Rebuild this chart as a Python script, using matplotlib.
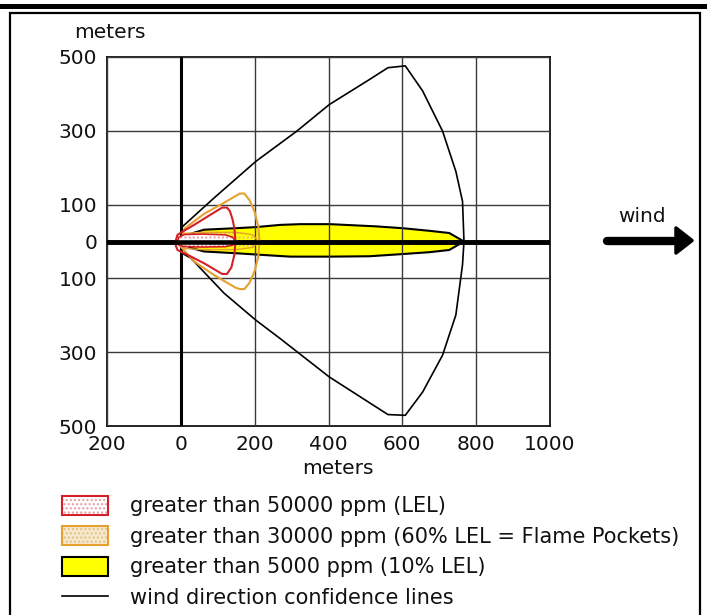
import matplotlib
matplotlib.use('Agg')
import matplotlib.pyplot as plt
from matplotlib.patches import Polygon, Patch, Rectangle
from matplotlib.lines import Line2D
from matplotlib.legend_handler import HandlerTuple

plt.rcParams['font.family'] = ['DejaVu Sans']
plt.rcParams['hatch.linewidth'] = 1.0

# ---------------- data (meters) ----------------
conf_x = [0, 4, 90, 203, 314, 402, 511, 561, 608, 655, 709, 745, 763, 767,
          763, 745, 709, 655, 608, 561, 402, 269, 203, 117, 27, 4, 0]
conf_y = [0, 40, 118, 217, 299, 371, 439, 471, 476, 408, 299, 190, 109, 0,
          -63, -199, -308, -408, -471, -469, -367, -263, -213, -140, -45, -32, 0]

yellow_x = [0, 30, 63, 148, 203, 269, 323, 404, 529, 601, 673, 727, 767,
            727, 673, 601, 511, 404, 296, 215, 153, 63, 30, 0]
yellow_y = [3, 22, 32, 36, 39, 45, 47, 47, 41, 36, 29, 23, 0,
            -23, -29, -34, -40, -41, -41, -36, -32, -27, -18, -3]

red_x = [-16, -9, 5, 36, 81, 112, 125, 133, 140, 145, 148, 145, 137, 125, 112, 63, 18, -9]
red_y = [-5, 18, 27, 45, 73, 92, 92, 82, 60, 36, 0, -36, -70, -88, -88, -59, -36, -23]

orange_x = [0, 10, 63, 117, 160, 172, 186, 200, 210, 213, 210, 200, 186, 172, 160, 148, 90, 36, 0]
orange_y = [0, 35, 75, 105, 130, 130, 112, 80, 40, 0, -40, -80, -112, -129, -129, -125, -91, -54, -14]

red_fp_x = [-9, -5, 10, 60, 120, 140, 148, 140, 120, 60, 10, -5, -9]
red_fp_y = [0, 12, 19, 20, 18, 12, 0, -10, -14, -15, -14, -10, 0]

orange_fp_x = [-5, 10, 60, 150, 195, 210, 195, 150, 60, 10, -5]
orange_fp_y = [0, 22, 25, 25, 18, 0, -16, -22, -22, -19, 0]

xticks = [-200, 0, 200, 400, 600, 800, 1000]
xtick_labels = ['200', '0', '200', '400', '600', '800', '1000']
yticks = [-500, -300, -100, 0, 100, 300, 500]
ytick_labels = ['500', '300', '100', '0', '100', '300', '500']

legend_labels = ['greater than 50000 ppm (LEL)',
                 'greater than 30000 ppm (60% LEL = Flame Pockets)',
                 'greater than 5000 ppm (10% LEL)',
                 'wind direction confidence lines']

RED = '#d42028'
ORANGE = '#e5a030'
PINK = '#e89aa0'
BEIGE = '#e2c080'
YELLOW = '#ffff00'

# ---------------- figure ----------------
W, H = 707, 615
fig = plt.figure(figsize=(W / 100, H / 100), dpi=100)
fig.patch.set_facecolor('white')

def fx(px):
    return px / W

def fy(py):
    return 1 - py / H

ax = fig.add_axes([fx(107), fy(426), 443 / W, 369 / H])
ax.set_xlim(-200, 1000)
ax.set_ylim(-500, 500)

ax.set_xticks(xticks)
ax.set_xticklabels(xtick_labels)
ax.set_yticks(yticks)
ax.set_yticklabels(ytick_labels)
ax.tick_params(length=0, labelsize=14.5, colors='#111111')
ax.tick_params(axis='x', pad=6.5)
ax.tick_params(axis='y', pad=7)
for sp in ax.spines.values():
    sp.set_linewidth(1.3)
    sp.set_color('#111111')
ax.grid(True, color='#3a3a3a', lw=1.0)
ax.set_axisbelow(False)

# yellow zone (below grid)
ax.add_patch(Polygon(list(zip(yellow_x, yellow_y)), closed=True,
                     facecolor=YELLOW, edgecolor='black', lw=1.5, zorder=1))

# thick axes lines
ax.axhline(0, color='black', lw=3.3, zorder=3)
ax.axvline(0, color='black', lw=2.2, zorder=3)

# confidence lines
ax.plot(conf_x, conf_y, color='black', lw=1.2, zorder=4)

# orange footprint & outline
ax.add_patch(Polygon(list(zip(orange_fp_x, orange_fp_y)), closed=True,
                     facecolor='none', edgecolor=BEIGE, hatch='....', lw=0, zorder=4))
ax.add_patch(Polygon(list(zip(orange_fp_x, orange_fp_y)), closed=True,
                     facecolor='none', edgecolor=ORANGE, lw=1.0, zorder=4))
ax.add_patch(Polygon(list(zip(orange_x, orange_y)), closed=True,
                     facecolor='none', edgecolor=ORANGE, lw=1.5, zorder=5))

# red footprint & outline
ax.add_patch(Polygon(list(zip(red_fp_x, red_fp_y)), closed=True,
                     facecolor='white', edgecolor=PINK, hatch='....', lw=0, zorder=5))
ax.add_patch(Polygon(list(zip(red_fp_x, red_fp_y)), closed=True,
                     facecolor='none', edgecolor=RED, lw=1.2, zorder=6))
ax.add_patch(Polygon(list(zip(red_x, red_y)), closed=True,
                     facecolor='none', edgecolor=RED, lw=1.5, zorder=6))
ax.axhline(0, color='black', lw=3.3, zorder=6.5)

# axis labels
fig.text(fx(110), fy(33), 'meters', ha='center', va='center', fontsize=14.5, color='#111111')
fig.text(fx(338), fy(468), 'meters', ha='center', va='center', fontsize=14.5, color='#111111')

# wind arrow
fig.text(fx(642), fy(217), 'wind', ha='center', va='center', fontsize=14.5, color='#111111')
fig.add_artist(Line2D([fx(607), fx(678)], [fy(240.5), fy(240.5)], transform=fig.transFigure,
                      color='black', lw=6, solid_capstyle='round'))
fig.add_artist(Polygon([(fx(676), fy(228)), (fx(676), fy(253)), (fx(692), fy(240.5))],
                       closed=True, transform=fig.transFigure, facecolor='black',
                       edgecolor='black', lw=2.5, joinstyle='round'))

# frame
fig.add_artist(Rectangle((0, fy(9)), 1, 5 / H, transform=fig.transFigure,
                         facecolor='black', edgecolor='none'))
fig.add_artist(Rectangle((fx(10), -0.02), 690 / W, fy(13) + 0.02, transform=fig.transFigure,
                         facecolor='none', edgecolor='black', lw=1.6))

# legend
h_red = (Patch(facecolor='white', edgecolor=PINK, hatch='....', lw=0),
         Patch(facecolor='none', edgecolor=RED, lw=1.5))
h_or = (Patch(facecolor='#f6e8cc', edgecolor=BEIGE, hatch='....', lw=0),
        Patch(facecolor='none', edgecolor=ORANGE, lw=1.5))
h_y = Patch(facecolor=YELLOW, edgecolor='black', lw=1.5)
h_l = Line2D([], [], color='black', lw=1.2)
leg = fig.legend([h_red, h_or, h_y, h_l], legend_labels,
                 handler_map={tuple: HandlerTuple(ndivide=1, pad=0)},
                 loc='upper left', bbox_to_anchor=(fx(62), fy(496)),
                 frameon=False, fontsize=15, borderpad=0, borderaxespad=0,
                 handlelength=2.2, handleheight=1.0, handletextpad=1.05,
                 labelspacing=0.48)
for t in leg.get_texts():
    t.set_color('#111111')

fig.savefig('out.png', dpi=100)
